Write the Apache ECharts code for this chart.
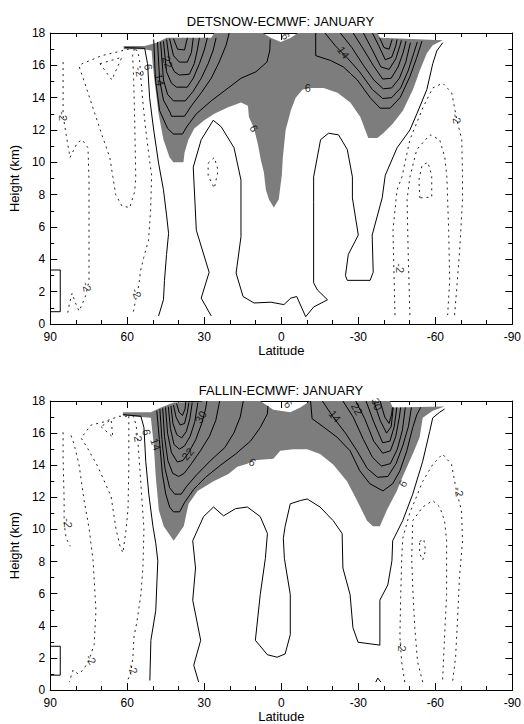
<!DOCTYPE html>
<html><head><meta charset="utf-8">
<script src="https://cdn.jsdelivr.net/npm/echarts@6/dist/echarts.min.js"></script>
<style>html,body{margin:0;padding:0;background:#fff}#c{width:524px;height:724px}</style>
</head><body><div id="c"></div>
<script>
// ---------- tick labels / titles ----------
const xTickLabels = [90, 60, 30, 0, -30, -60, -90];
const yTickLabels = [0, 2, 4, 6, 8, 10, 12, 14, 16, 18];
const titles = ['DETSNOW-ECMWF: JANUARY', 'FALLIN-ECMWF: JANUARY'];

// ---------- PANEL 1 (DETSNOW) : [latitude, height km] ----------
const p1Shade = [[61.4,17.2],[53.2,17.2],[48.6,17.4],[44.7,17.7],[27.3,17.7],[26.1,18],[7.2,18],[4.1,17.7],[0.2,17.45],[-3.7,17.7],[-6.4,18],[-37.4,18],[-38.5,17.7],[-62.9,17.55],[-59,17.25],[-56.7,16.75],[-54,15.7],[-51.3,14.5],[-47.4,13.2],[-43.5,12.4],[-39.7,11.8],[-37.4,11.5],[-33.9,11.5],[-32.7,12],[-30.8,12.8],[-26.9,13.7],[-21.9,14.3],[-16.5,14.6],[-11.4,14.6],[-8.3,14.5],[-5.6,14],[-3.7,13.2],[-1.7,12],[-0.6,10.3],[-0.2,9.2],[1,7.7],[2.9,7.2],[4.8,7.7],[6,8.3],[6.8,9.4],[7.9,10.1],[9.1,11.1],[10.6,12.1],[12.6,12.8],[13,13.5],[15.7,13.7],[20.7,13.4],[26.1,13],[30,12.6],[33.9,12.1],[36.2,11.4],[37.7,10.6],[38.1,10],[42,10],[43.5,10.3],[45.9,11.4],[47.8,13],[49.4,15.1],[50.1,16.1],[50.5,16.9],[53.2,17],[61.4,17]];

const p1Solid = [
  [[49.7,17.6],[49,15.1],[47.4,13.2],[44.3,12.1],[42,11.75],[38.5,11.75],[36.6,12.25],[33.1,13],[27.3,13.8],[21.5,14.5],[15.7,15.2],[9.9,15.6],[5.6,16.2],[4.5,16.9],[4.3,17.6]],
  [[48.2,17.45],[47.4,15.1],[45.9,13.85],[43.2,13.05],[42.8,12.85],[37.7,12.85],[35,13.5],[31.2,14.3],[27.3,15.2],[24.2,16.2],[21.5,17.25],[20.3,18]],
  [[47,17.45],[45.9,15.1],[44.3,14.2],[42,13.8],[37.4,13.8],[34.3,14.4],[31.2,15.2],[28.5,16.1],[26.5,16.95],[25.4,17.7]],
  [[45.9,17.5],[44.7,15.6],[42.8,14.9],[40.8,14.65],[36.6,14.65],[34.3,15.2],[31.9,16.1],[30,16.95],[28.8,17.7]],
  [[44.7,17.6],[43.5,16.2],[41.6,15.6],[39.7,15.4],[35.8,15.45],[33.9,16.1],[32.7,16.95],[31.9,17.7]],
  [[43.5,17.65],[42,16.6],[39.7,16.2],[36.6,16.2],[35,16.8],[34.3,17.7]],
  [[42,17.65],[40.4,17],[37.7,16.95],[36.6,17.7]],
  [[-13.4,18],[-13.4,16.6],[-19.2,16.3],[-24.2,15.9],[-29.6,15.1],[-34.6,14],[-38.5,13.35],[-42.4,13.35],[-46.3,14],[-50.1,15.3],[-52.8,16.5],[-54.8,17.5]],
  [[-17,18],[-21.1,17.2],[-25.5,16.5],[-30.5,15.6],[-35.5,14.5],[-39.5,13.95],[-43,14],[-46.5,14.6],[-49.5,15.7],[-51.7,16.8],[-53,17.45]],
  [[-23,18],[-27.5,17.1],[-32,16],[-36,15.1],[-39.7,14.55],[-43,14.6],[-46,15.2],[-48.5,16.2],[-50.3,17.4]],
  [[-28,18],[-32,17],[-35.8,16],[-39.5,15.15],[-42.8,15.2],[-45.5,15.9],[-47.5,16.8],[-48.6,17.5]],
  [[-32,18],[-35.3,17],[-38.8,15.9],[-42,15.75],[-44.6,16.4],[-46.2,17.2],[-46.8,17.55]],
  [[-35.5,18],[-38,17.2],[-40.5,16.35],[-43,16.5],[-44.6,17.2],[-45.1,17.6]],
  [[-38.3,17.7],[-40,17.1],[-42,17],[-43.2,17.6]],
  [[61,17.1],[53.2,17.05],[52.1,16.1],[51.3,14],[49.7,12],[47.8,9.95],[45.9,8.3],[44.7,6.75],[43.9,5.6],[44.7,4.3],[45.5,2.7],[45.9,1.5],[47.8,0.5]],
  [[27.3,0.5],[31.2,1.6],[28.1,3.2],[33.1,5.8],[34.3,9.7],[31.2,11.4],[26.5,12.6],[23.4,12.2],[18.4,10.9],[15.7,8.9],[15.7,5.4],[17.6,3.15],[14.9,1.7],[10.6,1.3],[4.1,1.35],[-1,1.2],[-3.7,1.6],[-6,1.7],[-9.5,0.45],[-12.6,1.05],[-18,1.5],[-14.1,2.1],[-12.6,2.55],[-12.6,7.5],[-12.6,9.1],[-15.3,11.4],[-18.4,11.8],[-22.3,11.7],[-25.7,10.8],[-27.7,9.1],[-27.7,7.8],[-30,5.5],[-26.1,4.3],[-25,3],[-25.7,2.7],[-34.6,2.7],[-35.8,3.2],[-35.4,5.5],[-39.3,7.8],[-40.5,9.2],[-45.1,10.9],[-50.1,12],[-52.8,13],[-56.7,14.5],[-59,16.1],[-60.6,16.9],[-62.9,17.4]],
  [[90,0.76],[86.1,0.76],[86.1,3.34],[90,3.34]]
];

const p1Dashed = [
  [[85,16.2],[85,12.9],[83.8,11.7],[82.3,10.3],[79.5,11.2],[77.6,11.4],[75.3,10.9],[74.9,8.9],[74.9,2.7],[76.1,1.8],[77.6,1.2],[78.8,0.8],[80.3,1.35],[81.5,1.9],[82.6,1.2],[83.4,0.5]],
  [[57.1,17.1],[62.1,16.9],[69.9,16.6],[77.6,16.1],[78.8,15.95],[75.7,14.5],[72.6,13],[69.9,11.7],[66.8,10.3],[65.6,9.1],[64.5,8],[62.1,7.3],[59,7.2],[57.1,8.2],[56.7,9.1],[57.1,12.6],[57.5,15.1],[57.9,16.6],[57.1,17.1]],
  [[70.6,16.1],[62.1,16.5],[66,15.1],[70.6,16.1]],
  [[59,17.1],[55.9,16.9],[55.2,16.3],[54.8,15.4],[54,13.85],[52.8,12],[51.3,10.1],[50.5,9.2],[50.9,7.05],[51.7,5.2],[53.6,4.1],[54.8,3.3],[55.5,2.4],[56.7,1.5],[57.9,0.55]],
  [[28.5,9.95],[26.1,10.3],[24.6,9.5],[26.1,8.4],[28.5,9.2],[28.5,9.95]],
  [[-44.3,0.55],[-43.5,5.8],[-45.1,8.3],[-47,9.1],[-50.1,11.4],[-55.2,13.4],[-59,14.6],[-62.9,14.9],[-66.4,14.3],[-68.3,12.7],[-70.3,11.4],[-70.6,9.1],[-70.6,7.7],[-69.5,4.6],[-68.3,2.1],[-67.5,0.55]],
  [[-50.1,0.55],[-49.4,4.6],[-49,7.7],[-50.1,9.1],[-52.8,10.8],[-57.9,11.7],[-61.7,11.4],[-63.7,10.3],[-64.5,9.1],[-65.2,5.8],[-65.6,2.7],[-64.8,0.55]],
  [[-54,7.8],[-53.6,8.9],[-54.8,9.8],[-57.1,10],[-58.6,9.2],[-58.6,7.85],[-54,7.8]]
];

const p1Labels = [[-1.7,17.8,'6'],[-24.2,16.8,'14'],[-10.3,14.6,'6'],[10.6,12.1,'6'],[51.7,15.9,'6'],[55.2,15.6,'-2'],[47.4,15.1,'14'],[44.3,16.2,'22'],[85,12.85,'-2'],[75.7,2.3,'-2'],[56.3,1.9,'-2'],[-46.3,3.45,'-2'],[-68.3,12.7,'-2']];
const p1LabelAngle = [-60,-55,0,-60,-80,-80,-80,-70,-90,-80,-70,-90,-80];

// ---------- PANEL 2 (FALLIN) ----------
const p2Shade = [[61.7,17.3],[50.8,17.3],[46.9,17.6],[41.9,17.9],[31.4,17.95],[30.3,18],[8.2,18],[3.1,17.45],[-3.5,17.3],[-7.4,17.6],[-11.2,18],[-42.3,18],[-43.4,17.6],[-63.6,17.65],[-59,17.4],[-55.1,16.95],[-53.9,15.75],[-51.2,14.7],[-47.3,13.3],[-45,12.4],[-41.1,11.2],[-38.4,10.2],[-35.7,10.2],[-33.4,10.55],[-29.5,11.8],[-25.6,13],[-20.2,14.05],[-15.1,14.7],[-10.1,15],[-4.6,15],[0.4,14.9],[3.1,14.4],[10.9,14.3],[13.2,14.1],[17.1,13.9],[20.6,13.45],[26.4,13],[32.6,12.4],[36.1,11.6],[38,10.2],[41.9,9.3],[45.8,10.2],[47.7,11.2],[48.9,13.3],[49.7,15.3],[50.8,16.95],[61.7,17.1]];

const p2Solid = [
  [[48.5,17.4],[47.5,15.6],[46.3,13.45],[45,12.2],[43.5,11.4],[42,11.1],[39.6,11.1],[37.6,11.7],[34.1,12.5],[29.5,13.25],[23.7,14],[17.8,14.7],[12,15.5],[8.2,16.35],[5.4,17.2],[5.2,17.7]],
  [[47.3,17.5],[46.5,15.6],[45.3,13.8],[43.5,12.6],[41.5,12.2],[39,12.2],[36.8,12.7],[33,13.4],[27.5,14.3],[22,15.1],[18.5,16],[16,17],[14.8,18]],
  [[46.2,17.55],[45.5,15.8],[44.2,14.3],[42.3,13.5],[40,13.3],[37.8,13.5],[35,14.1],[31.5,14.9],[28,15.8],[25.5,16.8],[24,18]],
  [[45.1,17.6],[44.3,16],[42.8,14.8],[40.5,14.2],[38.3,14.3],[36,14.8],[33.3,15.6],[31,16.6],[29.5,17.5],[29,18]],
  [[44,17.65],[43.2,16.3],[41.8,15.3],[39.7,15],[37.7,15.2],[35.5,15.8],[33.7,16.7],[32.5,17.9]],
  [[43,17.7],[42.2,16.6],[40.7,15.9],[38.8,15.7],[37,16.1],[35.6,16.9],[34.7,17.9]],
  [[42,17.75],[41,17],[39.4,16.5],[37.7,16.6],[36.6,17.3],[36,17.9]],
  [[40.8,17.85],[39.8,17.3],[38.5,17.1],[37.5,17.5],[37.2,17.95]],
  [[-11.4,18],[-12,16.9],[-16.3,16.4],[-21.7,15.75],[-26.8,14.9],[-30.6,13.65],[-34.5,12.85],[-39.6,12.4],[-43.4,12.85],[-46.2,13.65],[-48.9,14.9],[-51.2,16.35],[-52.8,17.15],[-54.3,17.6]],
  [[-16,18],[-20.2,17],[-25,16],[-29.5,14.9],[-33.5,13.8],[-37.5,13.25],[-41.5,13.3],[-44.7,14.1],[-47.3,15.2],[-49.5,16.4],[-50.7,17.6]],
  [[-24,18],[-28,17],[-32,15.6],[-35.5,14.5],[-39,13.95],[-42.5,14.1],[-45.2,15],[-47.2,16.2],[-48.3,17.6]],
  [[-29,18],[-32.5,16.9],[-36,15.5],[-39.5,14.75],[-42.5,14.9],[-44.6,15.8],[-46,17],[-46.5,17.6]],
  [[-33,18],[-36,16.7],[-39.5,15.4],[-42.3,15.5],[-44,16.4],[-45,17.6]],
  [[-36,18],[-38.5,16.8],[-41,16],[-42.8,16.4],[-43.6,17.6]],
  [[-38.5,18],[-40.3,17],[-42,16.6],[-43,17.2],[-43.3,17.6]],
  [[61.7,17.15],[54.7,17.05],[53.5,16.35],[52.8,14.25],[51.6,12.2],[50,10.2],[48.9,9.15],[48.1,8.05],[48.9,4.95],[50.8,3.1],[51.2,0.6]],
  [[32.2,0.5],[34.1,1.55],[31.4,3.1],[34.5,5.6],[33.4,7.6],[34.5,9.3],[30.3,10.8],[26.4,11.4],[22.5,10.85],[17.8,11.3],[13.2,11.4],[8.2,10.8],[5.4,9.75],[6.2,8.2],[8.2,5.95],[10.1,3.1],[5.4,2.2],[1.6,2.05],[-1.5,2.25],[-3.5,3.45],[-3.5,5.95],[-1.2,8.2],[-0.8,9.45],[-1.5,10.2],[-3.5,11.6],[-7.4,11.8],[-10.1,11.9],[-15.1,11.4],[-20.2,10.55],[-23.7,9.75],[-24,7.6],[-26.8,5.95],[-27.9,3.9],[-29.9,2.98],[-38.4,2.8],[-38.4,5.6],[-41.5,6.55],[-43.1,8.05],[-43.4,9.3],[-47.3,10.55],[-51.2,12.2],[-55.1,14.25],[-57.8,16.1],[-59,16.95],[-61.7,17.3],[-63.6,17.5]],
  [[-36.8,0.5],[-37.6,0.75],[-38.8,0.5]],
  [[90,0.93],[86.1,0.93],[86.1,2.73],[90,2.73]]
];

const p2Dashed = [
  [[85,16.05],[85,14.4],[84.6,11.9],[84.6,10.4],[83.8,9.45],[82.2,8.95]],
  [[81.9,15.85],[80.7,15.3],[78.8,14.05],[76.8,11.8],[74.9,10.1],[73.3,8.05],[72.2,4.95],[72.9,2.85],[74.9,1.85],[77.2,1.25],[79.1,1],[81.1,1.25],[82.6,0.5]],
  [[59.4,17.05],[59.4,13.8],[59.7,11.3],[60.5,9.95],[61.7,8.55],[62.8,8.95],[64.4,10.05],[66.3,12.05],[71.4,13.9],[75.6,15.1],[78,15.7],[74.1,16.5],[69.1,16.7],[63.2,17.05],[59.4,17.05]],
  [[70.2,16.4],[65.6,15.75],[66.3,16.85],[70.2,16.4]],
  [[57.8,17.1],[56.6,16.55],[55.9,15.6],[55.1,13.8],[54.3,11.9],[53.5,10.05],[53.9,7.6],[54.7,5.95],[56.3,4.2],[57.4,3.3],[57.8,2.05],[58.6,1.1],[60.1,0.5]],
  [[-48.1,0.5],[-46.9,1.75],[-46.2,3.3],[-46.5,5.75],[-46.9,8.2],[-47.3,9.45],[-50,11],[-55.1,13],[-59,14.05],[-62.8,14.7],[-66.3,14.05],[-68.3,12.35],[-70.2,11.2],[-70.6,9.3],[-69.4,7],[-68.7,4.55],[-67.9,2.05],[-66.7,0.5]],
  [[-55.1,0.5],[-53.1,1.75],[-52,3.9],[-51.2,6.4],[-50.8,8.2],[-51.2,10.55],[-55.1,11.4],[-59,11.8],[-61.7,11.4],[-63.6,10.55],[-64.4,9.3],[-64.4,5.95],[-63.6,3.3],[-62.8,0.5]],
  [[-53.9,9.25],[-55.5,9.4],[-56.2,8.7],[-55.1,8.1],[-53.9,8.5],[-53.9,9.25]]
];

const p2Labels = [[83,10.4,'-2'],[74.1,1.9,'-2'],[57.8,1.3,'-2'],[55.9,15.75,'-2'],[52.4,16.05,'6'],[48.9,15.3,'14'],[36.5,14.7,'22'],[31.4,17,'30'],[11.3,14.2,'6'],[-2.7,17.8,'6'],[-20.9,17.05,'14'],[-29.5,17.5,'22'],[-37.2,17.8,'30'],[-47.3,12.85,'6'],[-69.3,12.35,'-2'],[-46.9,2.7,'-2']];
const p2LabelAngle = [-90,-60,-70,-80,-80,-70,50,60,-30,-50,-50,-60,-70,60,-80,-90];

// ---------- rendering ----------
const FONT = '"Liberation Sans", Arial, Helvetica, sans-serif';
const SHADE = '#7d7d7d';

function xAx(g, pos, show) {
  return { gridIndex: g, type: 'value', min: -90, max: 90, interval: 30, inverse: true, position: pos,
    axisLine: { show: true, onZero: false, lineStyle: { color: '#000', width: 1 } },
    axisTick: { show: true, inside: true, length: 7, lineStyle: { color: '#000' } },
    minorTick: { show: true, splitNumber: 3, length: 4, lineStyle: { color: '#000' } },
    splitLine: { show: false }, minorSplitLine: { show: false },
    axisLabel: { show: show, margin: 7, fontSize: 12, color: '#000', fontFamily: FONT,
      formatter: v => xTickLabels.includes(v) ? String(v) : '' },
    name: show ? 'Latitude' : '', nameLocation: 'middle', nameGap: 19,
    nameTextStyle: { fontSize: 13, color: '#000', fontFamily: FONT } };
}
function yAx(g, pos, show) {
  return { gridIndex: g, type: 'value', min: 0, max: 18, interval: 2, position: pos,
    axisLine: { show: true, onZero: false, lineStyle: { color: '#000', width: 1 } },
    axisTick: { show: true, inside: true, length: 7, lineStyle: { color: '#000' } },
    minorTick: { show: true, splitNumber: 2, length: 4, lineStyle: { color: '#000' } },
    splitLine: { show: false }, minorSplitLine: { show: false },
    axisLabel: { show: show, margin: 5, fontSize: 12, color: '#000', fontFamily: FONT,
      formatter: v => yTickLabels.includes(v) ? String(v) : '' },
    name: show ? 'Height (km)' : '', nameLocation: 'middle', nameGap: 25,
    nameTextStyle: { fontSize: 13, color: '#000', fontFamily: FONT } };
}
function shadeSeries(pts, ai) {
  return { type: 'custom', xAxisIndex: ai, yAxisIndex: ai, silent: true, z: 1, animation: false,
    data: [pts[0]],
    renderItem: (params, api) => ({ type: 'polygon',
      shape: { points: pts.map(p => api.coord(p)) },
      style: { fill: SHADE, stroke: null } }) };
}
function lineSeries(pts, ai, dashed) {
  return { type: 'line', xAxisIndex: ai, yAxisIndex: ai, data: pts, symbol: 'none', showSymbol: false,
    silent: true, z: 3, animation: false,
    lineStyle: dashed ? { color: '#222', width: 1, type: [2, 4] } : { color: '#000', width: 1 } };
}
function labelSeries(labels, angles, ai) {
  return { type: 'scatter', xAxisIndex: ai, yAxisIndex: ai, symbolSize: 1, silent: true, z: 5,
    itemStyle: { color: 'rgba(0,0,0,0)' }, animation: false,
    data: labels.map((l, i) => ({ value: [l[0], l[1]],
      label: { show: true, position: 'inside', formatter: l[2], rotate: angles[i],
        fontSize: 11, color: '#000', fontFamily: FONT } })) };
}

const series = [];
series.push(shadeSeries(p1Shade, 0));
p1Solid.forEach(s => series.push(lineSeries(s, 0, false)));
p1Dashed.forEach(s => series.push(lineSeries(s, 0, true)));
series.push(labelSeries(p1Labels, p1LabelAngle, 0));
series.push(shadeSeries(p2Shade, 2));
p2Solid.forEach(s => series.push(lineSeries(s, 2, false)));
p2Dashed.forEach(s => series.push(lineSeries(s, 2, true)));
series.push(labelSeries(p2Labels, p2LabelAngle, 2));

const chart = echarts.init(document.getElementById('c'), null, { renderer: 'svg' });
chart.setOption({
  animation: false,
  backgroundColor: '#fff',
  textStyle: { fontFamily: FONT },
  grid: [
    { left: 48, top: 33, width: 465, height: 291 },
    { left: 49, top: 401, width: 464, height: 292 }
  ],
  xAxis: [xAx(0, 'bottom', true), xAx(0, 'top', false), xAx(1, 'bottom', true), xAx(1, 'top', false)],
  yAxis: [yAx(0, 'left', true), yAx(0, 'right', false), yAx(1, 'left', true), yAx(1, 'right', false)],
  graphic: [
    { type: 'text', x: 280.5, y: 21.5, silent: true,
      style: { text: titles[0], align: 'center', verticalAlign: 'middle', fontSize: 13, fontFamily: FONT, fill: '#000' } },
    { type: 'text', x: 281, y: 390, silent: true,
      style: { text: titles[1], align: 'center', verticalAlign: 'middle', fontSize: 13, fontFamily: FONT, fill: '#000' } }
  ],
  series: series
});
</script>
</body></html>
